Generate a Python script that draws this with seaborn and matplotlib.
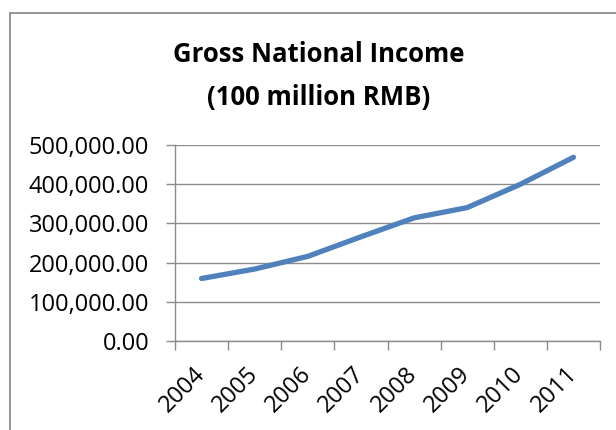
import matplotlib
matplotlib.use("Agg")
import matplotlib.pyplot as plt
from matplotlib.patches import Rectangle
from matplotlib.ticker import FuncFormatter, FixedLocator
import seaborn as sns
import pandas as pd

years = ["2004", "2005", "2006", "2007", "2008", "2009", "2010", "2011"]
gni = [159453.6, 183617.4, 215904.4, 265810.3, 314045.4, 340320.0, 399759.5, 468562.4]
title_text = "Gross National Income\n(100 million RMB)"

sns.set_theme(style="white")
plt.rcParams["font.family"] = ["Open Sans", "DejaVu Sans"]

df = pd.DataFrame({"pos": range(len(years)), "year": years, "gni": gni})

fig = plt.figure(figsize=(6.16, 4.30), dpi=100)
fig.patch.set_facecolor("white")

# chart frame
fig.patches.append(Rectangle((10 / 616, -0.1), 1.2, (430 - 13) / 430 + 0.1,
                             transform=fig.transFigure, fill=False,
                             edgecolor="#8c8c8c", linewidth=1.3, zorder=0))

ax = fig.add_axes([175 / 616, (430 - 341) / 430, 425 / 616, 196 / 430])
sns.lineplot(data=df, x="pos", y="gni", ax=ax, color="#4F81BD", linewidth=3.8,
             solid_capstyle="round", solid_joinstyle="round", zorder=3)

ax.set_xlim(-0.5, len(years) - 0.5)
ax.set_ylim(0, 500000)
ax.set_xlabel("")
ax.set_ylabel("")

grid_c = "#8c8c8c"
ax.yaxis.set_major_locator(FixedLocator([0, 100000, 200000, 300000, 400000, 500000]))
ax.yaxis.set_major_formatter(FuncFormatter(lambda v, p: f"{v:,.2f}"))
ax.grid(axis="y", color=grid_c, linewidth=1.0)
ax.grid(axis="x", visible=False)

# category boundaries carry the ticks, centres carry the labels
ax.xaxis.set_major_locator(FixedLocator([i - 0.5 for i in range(len(years) + 1)]))
ax.xaxis.set_major_formatter(FuncFormatter(lambda v, p: ""))
ax.xaxis.set_minor_locator(FixedLocator(list(range(len(years)))))
ax.set_xticklabels(years, minor=True)

ax.tick_params(axis="x", which="major", direction="out", length=6.5, width=1.0,
               color=grid_c, bottom=True)
ax.tick_params(axis="x", which="minor", length=0, pad=21, labelsize=17,
               labelcolor="black", bottom=True)
ax.tick_params(axis="y", direction="out", length=6.5, width=1.0, color=grid_c,
               labelsize=17, labelcolor="black", left=True, pad=12)

for lbl in ax.get_xticklabels(minor=True):
    lbl.set_rotation(45)
    lbl.set_ha("right")
    lbl.set_va("center")
    lbl.set_rotation_mode("anchor")

for side in ["top", "right"]:
    ax.spines[side].set_visible(False)
for side in ["left", "bottom"]:
    ax.spines[side].set_color(grid_c)
    ax.spines[side].set_linewidth(1.0)

fig.text(319 / 616, 1 - 76 / 430, title_text, ha="center", va="center",
         fontsize=18.5, fontweight="bold", linespacing=1.75, color="black")

fig.savefig("out.png", dpi=100, facecolor="white")
